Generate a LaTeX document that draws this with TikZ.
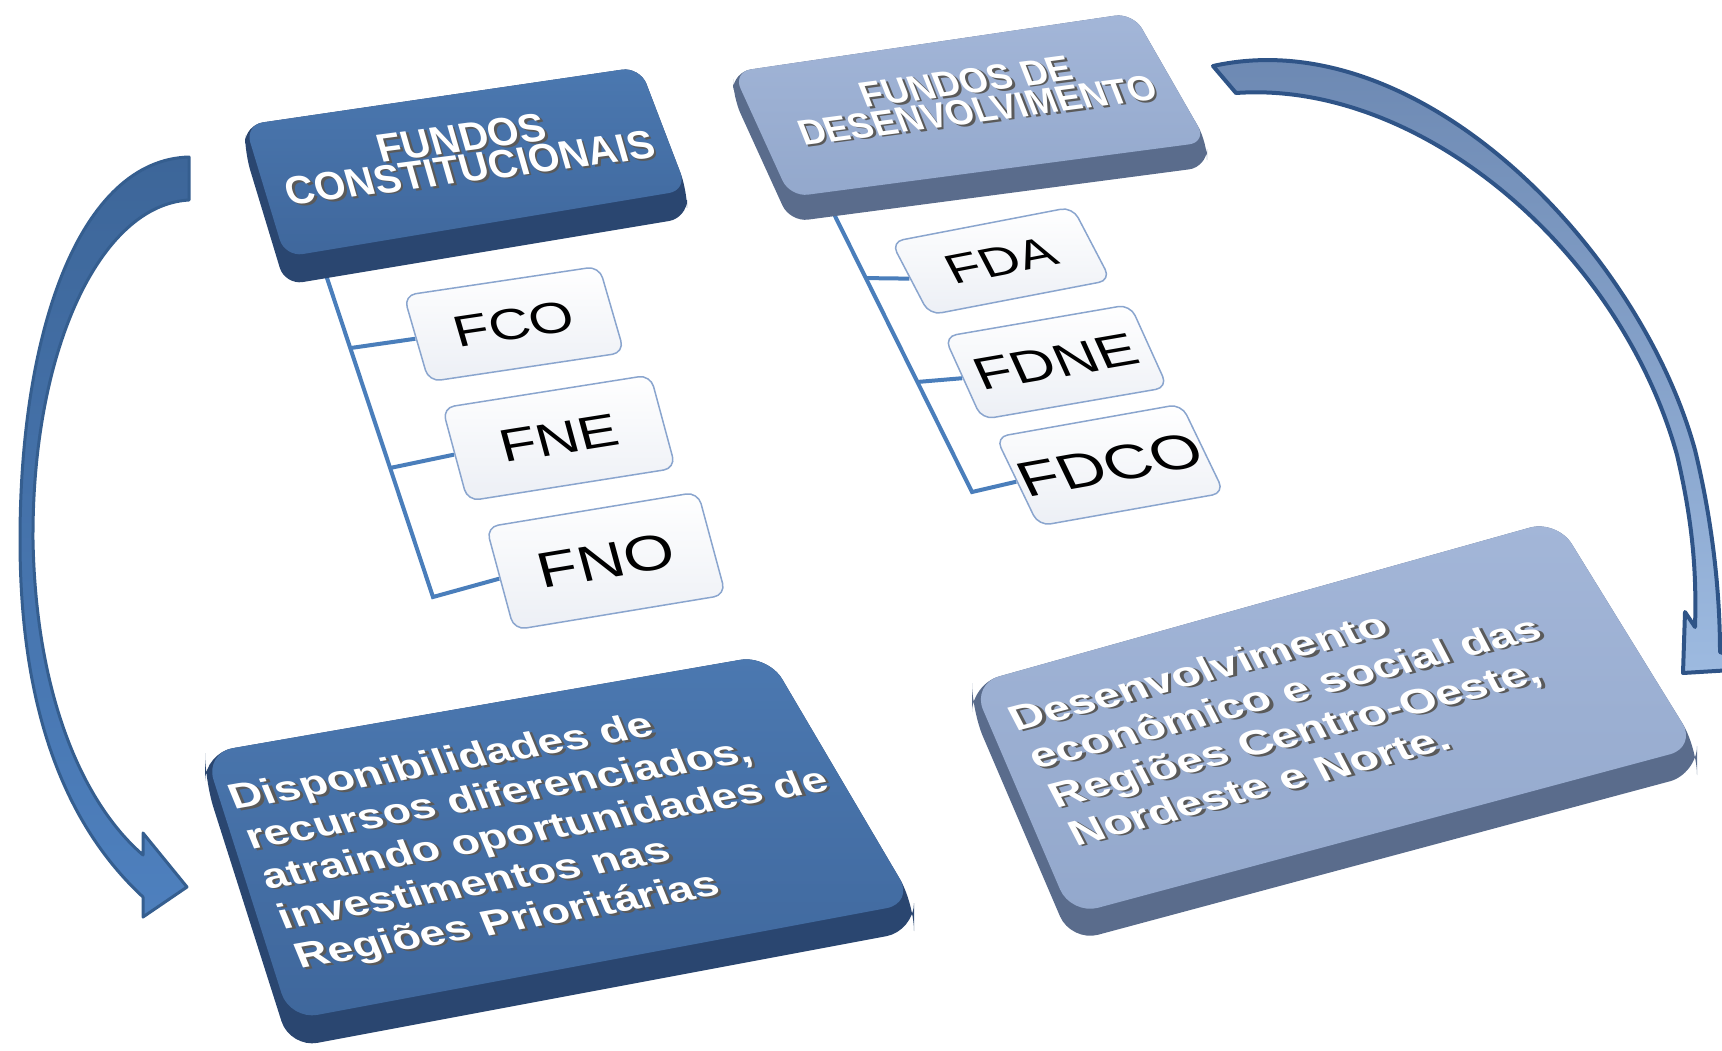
\documentclass[tikz,border=0pt]{standalone}
\usepackage{fontspec}
\setmainfont{Liberation Sans}
\usetikzlibrary{calc,backgrounds}

\definecolor{csTopA}{HTML}{4B78B0}
\definecolor{csTopB}{HTML}{3F679C}
\definecolor{csSide}{HTML}{2A4670}
\definecolor{dsTopA}{HTML}{A3B6D8}
\definecolor{dsTopB}{HTML}{93A8CC}
\definecolor{dsSide}{HTML}{5A6C8C}
\definecolor{treeBlue}{HTML}{4A7EBB}
\definecolor{boxLine}{HTML}{8AA5CE}
\definecolor{boxFill}{HTML}{ECEFF5}
\definecolor{arrowDarkA}{HTML}{3D6699}
\definecolor{arrowDarkB}{HTML}{4E80BE}
\definecolor{arrowDarkLine}{HTML}{355E8F}
\definecolor{arrowLightA}{HTML}{6A86B0}
\definecolor{arrowLightB}{HTML}{9DBAE0}
\definecolor{arrowLightLine}{HTML}{2F5487}
\definecolor{txtShade}{HTML}{5A5A5A}

% white text with a grey extrusion
\newcommand{\shd}[1]{\rlap{\kern2pt\raisebox{-2pt}{\textcolor{txtShade}{#1}}}#1}

\begin{document}
\begin{tikzpicture}[x=1pt, y=-1pt,
    fund/.style={draw=boxLine, line width=1.5pt, top color=white, bottom color=boxFill,
      rounded corners=12pt, inner sep=0pt, text=black, xscale=1.3},
    title/.style={text=white, align=center, inner sep=0pt},
    blurb/.style={text=white, font=\fontsize{36}{42}\selectfont\bfseries, align=left,
      inner sep=0pt},
    tree/.style={draw=treeBlue, line width=4pt},
    bigarrow/.style={line width=3pt, line join=round}
  ]
\useasboundingbox (0,0) rectangle (1722,1050);

% Slab: Fundos Constitucionais
\fill[csSide, rounded corners=18pt] (245,125) -- (245,153) -- (285,285) -- (687,218) -- (687,190) -- (640,67) -- cycle;
\shade[top color=csTopA, bottom color=csTopB, rounded corners=18pt] (245,125) -- (640,67) -- (687,190) -- (285,257) -- cycle;
\node[rotate=7.5, xslant=-0.15, title, font=\fontsize{40}{31}\selectfont\bfseries] (cs-title) at (466,154)
  {\shd{FUNDOS}\\\shd{CONSTITUCIONAIS}};

% Slab: Fundos de Desenvolvimento
\fill[dsSide, rounded corners=18pt] (733,72) -- (733,97) -- (790,222) -- (1207,167) -- (1207,142) -- (1133,13) -- cycle;
\shade[top color=dsTopA, bottom color=dsTopB, rounded corners=18pt] (733,72) -- (1133,13) -- (1207,142) -- (790,197) -- cycle;
\node[rotate=7.5, xslant=-0.25, title, font=\fontsize{36}{30}\selectfont\bfseries] (ds-title) at (972,97)
  {\shd{FUNDOS DE}\\\shd{DESENVOLVIMENTO}};

% Funds of each group
\node[rotate=8.5, xslant=-0.135, fund, minimum width=152pt, minimum height=89pt, font=\fontsize{44}{44}\selectfont] (fco) at (514,324) {FCO};
\node[rotate=9.0, xslant=-0.107, fund, minimum width=162pt, minimum height=96pt, font=\fontsize{46}{46}\selectfont] (fne) at (559,438) {FNE};
\node[rotate=9.4, xslant=-0.10, fund, minimum width=165pt, minimum height=106pt, font=\fontsize{50}{50}\selectfont] (fno) at (606,561) {FNO};

\node[rotate=10.9, xslant=-0.30, fund, minimum width=142pt, minimum height=79pt, font=\fontsize{42}{42}\selectfont] (fda) at (1001,261) {FDA};
\node[rotate=9.8, xslant=-0.26, fund, minimum width=145pt, minimum height=88pt, font=\fontsize{46}{46}\selectfont] (fdne) at (1056,362) {FDNE};
\node[rotate=10.1, xslant=-0.28, fund, minimum width=145pt, minimum height=95pt, font=\fontsize{50}{50}\selectfont] (fdco) at (1110,465) {FDCO};

% Slab: result of the constitutional funds
\fill[csSide, rounded corners=28pt] (205,753) -- (205,781) -- (290,1048) -- (914,931) -- (914,903) -- (768,655) -- cycle;
\shade[top color=csTopA, bottom color=csTopB, rounded corners=28pt] (205,753) -- (768,655) -- (914,903) -- (290,1020) -- cycle;
\node[rotate=10, xslant=-0.22, blurb, xscale=1.26] (dis-text) at (546,832)
  {\shd{Disponibilidades de}\\\shd{recursos diferenciados,}\\\shd{atraindo oportunidades de}\\\shd{investimentos nas}\\\shd{Regiões Prioritárias}};

% Slab: result of the development funds
\fill[dsSide, rounded corners=28pt] (972,684) -- (972,711) -- (1071,942) -- (1697,774) -- (1697,747) -- (1557,520) -- cycle;
\shade[top color=dsTopA, bottom color=dsTopB, rounded corners=28pt] (972,684) -- (1557,520) -- (1697,747) -- (1071,915) -- cycle;
\node[rotate=14.6, xslant=-0.23, blurb, xscale=1.3] (des-text) at (1295,712)
  {\shd{Desenvolvimento}\\\shd{econômico e social das}\\\shd{Regiões Centro-Oeste,}\\\shd{Nordeste e Norte.}};

\begin{scope}[on background layer]
% Curved arrows
\draw[bigarrow, draw=arrowDarkLine, top color=arrowDarkA, bottom color=arrowDarkB]
  (189,157) .. controls (80,160) and (20,330) .. (20,540)
  .. controls (20,700) and (60,820) .. (143,897) -- (143,917) -- (187,887) -- (143,833) -- (143,855)
  .. controls (85,805) and (36,700) .. (33,540) .. controls (32,350) and (100,205) .. (189,200) -- cycle;
\draw[bigarrow, line width=4pt, draw=arrowLightLine, top color=arrowLightA, bottom color=arrowLightB]
  (1213,66) .. controls (1420,20) and (1640,250) .. (1695,450)
  .. controls (1712,520) and (1720,590) .. (1720,652) -- (1765,668) -- (1683,673) -- (1685,612) -- (1695,627)
  .. controls (1697,565) and (1691,515) .. (1677,455) .. controls (1620,250) and (1420,80) .. (1236,93) -- cycle;

% Tree lines
\coordinate (cs-top) at (325,272);
\coordinate (cs-bot) at (433,597);
\coordinate (ds-top) at (833,212);
\coordinate (ds-bot) at (972,492);
\draw[tree] (cs-top) -- (cs-bot) -- (fno.west);
\draw[tree] ($(cs-top)!0.234!(cs-bot)$) -- (fco.west);
\draw[tree] ($(cs-top)!0.603!(cs-bot)$) -- (fne.west);
\draw[tree] (ds-top) -- (ds-bot) -- (fdco.west);
\draw[tree] ($(ds-top)!0.236!(ds-bot)$) -- (fda.west);
\draw[tree] ($(ds-top)!0.607!(ds-bot)$) -- (fdne.west);
\end{scope}

\end{tikzpicture}
\end{document}
